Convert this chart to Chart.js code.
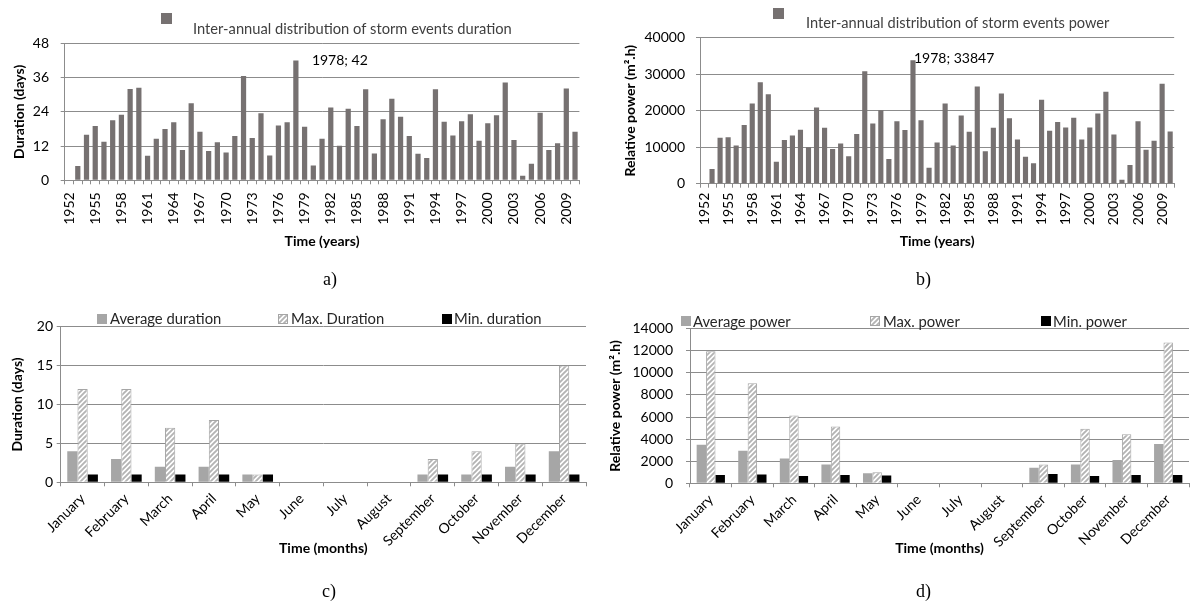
<!DOCTYPE html>
<html>
<head>
<meta charset="utf-8">
<script src="https://cdn.jsdelivr.net/npm/chart.js@4.4.0/dist/chart.umd.min.js"></script>
<style>
  html, body { margin: 0; padding: 0; background: #fff; }
  #wrap { position: relative; width: 1192px; height: 607px; overflow: hidden; background: #fff; }
  canvas { position: absolute; }
  .cap { position: absolute; font-family: 'Liberation Serif', 'Times New Roman', serif; font-size: 18px; color: #000; line-height: 1; }
</style>
</head>
<body>
<div id="wrap">
  <canvas id="chartA" width="600" height="262" style="left:0;top:0"></canvas>
  <canvas id="chartB" width="592" height="262" style="left:600px;top:0"></canvas>
  <canvas id="chartC" width="600" height="345" style="left:0;top:262px"></canvas>
  <canvas id="chartD" width="592" height="345" style="left:600px;top:262px"></canvas>
  <div class="cap" style="left:323px;top:270px">a)</div>
  <div class="cap" style="left:916px;top:270px">b)</div>
  <div class="cap" style="left:322px;top:582px">c)</div>
  <div class="cap" style="left:916px;top:582px">d)</div>
</div>
<script>
// ---- data ----
const years = ['1952','1953','1954','1955','1956','1957','1958','1959','1960','1961',
  '1962','1963','1964','1965','1966','1967','1968','1969','1970','1971',
  '1972','1973','1974','1975','1976','1977','1978','1979','1980','1981',
  '1982','1983','1984','1985','1986','1987','1988','1989','1990','1991',
  '1992','1993','1994','1995','1996','1997','1998','1999','2000','2001',
  '2002','2003','2004','2005','2006','2007','2008','2009','2010'];

// total storm duration per year (days)
const durationDays = [0, 5, 16, 19, 13.5, 21, 23, 32, 32.4, 8.6,
  14.6, 18, 20.3, 10.6, 27, 17, 10.3, 13.3, 9.7, 15.5,
  36.5, 14.8, 23.5, 8.7, 19.2, 20.3, 42, 18.8, 5.2, 14.6,
  25.5, 12.1, 25.1, 19, 31.9, 9.4, 21.4, 28.6, 22.3, 15.5,
  9.3, 7.8, 31.9, 20.5, 15.7, 20.7, 23.1, 13.9, 20, 22.8,
  34.3, 14.1, 1.6, 5.8, 23.7, 10.6, 13, 32.2, 17];

// total storm power per year (m2.h)
const powerYear = [0, 4000, 12600, 12700, 10500, 16100, 22000, 27800, 24500, 6000,
  12000, 13200, 14800, 10000, 20900, 15300, 9500, 11000, 7500, 13600,
  30800, 16500, 20100, 6800, 17100, 14700, 33847, 17400, 4400, 11300,
  22000, 10500, 18700, 14200, 26600, 8900, 15300, 24700, 17900, 12100,
  7400, 5600, 23000, 14500, 16900, 15400, 18100, 12100, 15400, 19200,
  25200, 13500, 1100, 5100, 17100, 9300, 11800, 27400, 14300];

const peakYear = '1978';

const months = ['January','February','March','April','May','June','July','August',
  'September','October','November','December'];

const avgDuration = [4, 3, 2, 2, 1, 0, 0, 0, 1, 1, 2, 4];
const maxDuration = [12, 12, 7, 8, 1, 0, 0, 0, 3, 4, 5, 15];
const minDuration = [1, 1, 1, 1, 1, 0, 0, 0, 1, 1, 1, 1];

const avgPower = [3500, 2950, 2250, 1700, 900, 0, 0, 0, 1400, 1700, 2100, 3550];
const maxPower = [11950, 9050, 6150, 5150, 1000, 0, 0, 0, 1700, 4950, 4450, 12750];
const minPower = [750, 800, 650, 750, 700, 0, 0, 0, 850, 650, 750, 750];

const yearTicksA = [0, 48, 12];       // min, max, step
const yearTicksB = [0, 40000, 10000];
const monthTicksC = [0, 20, 5];
const monthTicksD = [0, 14000, 2000];

// ---- styling ----
const FONT = "Lato, 'Open Sans', 'Liberation Sans', sans-serif";
Chart.defaults.font.family = FONT;
Chart.defaults.font.size = 14;
Chart.defaults.color = '#000';

const GRID = '#8c8c8c';
const DARK = '#767171';
const AVG = '#a6a6a6';
const MINC = '#000000';

function hatchPattern() {
  const c = document.createElement('canvas');
  c.width = 5; c.height = 5;
  const g = c.getContext('2d');
  g.fillStyle = '#ffffff';
  g.fillRect(0, 0, 5, 5);
  g.strokeStyle = '#b4b4b4';
  g.lineWidth = 1.9;
  g.beginPath();
  g.moveTo(-1, 6); g.lineTo(6, -1);
  g.moveTo(-3.5, 3.5); g.lineTo(3.5, -3.5);
  g.moveTo(1.5, 8.5); g.lineTo(8.5, 1.5);
  g.stroke();
  return g.createPattern(c, 'repeat');
}
const HATCH = hatchPattern();

// legend drawn at fixed spots: a square and the dataset label for each series
const legendBoxes = {
  id: 'legendBoxes',
  afterDraw(chart, args, opts) {
    const ctx = chart.ctx;
    ctx.save();
    opts.items.forEach((it, i) => {
      const ds = chart.data.datasets[i];
      ctx.fillStyle = ds.backgroundColor;
      ctx.fillRect(it.bx, it.by, it.size, it.size);
      if (ds.borderWidth) {
        ctx.strokeStyle = ds.borderColor;
        ctx.lineWidth = 1;
        ctx.strokeRect(it.bx + 0.5, it.by + 0.5, it.size - 1, it.size - 1);
      }
      ctx.fillStyle = opts.color || '#262626';
      ctx.font = (opts.size || 14) + 'px ' + FONT;
      ctx.textBaseline = 'middle';
      ctx.textAlign = 'left';
      ctx.fillText(ds.label, it.tx, it.ty);
    });
    ctx.restore();
  }
};

// "year; value" label next to one bar
const barNote = {
  id: 'barNote',
  afterDatasetsDraw(chart, args, opts) {
    const i = chart.data.labels.indexOf(opts.category);
    if (i < 0) return;
    const bar = chart.getDatasetMeta(0).data[i];
    const v = chart.data.datasets[0].data[i];
    const ctx = chart.ctx;
    ctx.save();
    ctx.fillStyle = '#000';
    ctx.font = '14px ' + FONT;
    ctx.textBaseline = 'middle';
    ctx.textAlign = 'left';
    ctx.fillText(chart.data.labels[i] + '; ' + v, bar.x + opts.dx, bar.y + opts.dy);
    ctx.restore();
  }
};

function xScale(opts) {
  return {
    grid: { display: true, offset: true, drawOnChartArea: false, drawTicks: true, tickLength: 4, color: GRID, lineWidth: 1 },
    border: { display: true, color: GRID, width: 1 },
    ticks: Object.assign({ autoSkip: false, color: '#000', font: { size: 14 } }, opts.ticks),
    title: { display: true, text: opts.title, color: '#000', font: { size: 14, weight: 'bold' }, padding: { top: 0, bottom: opts.titlePad } },
    afterFit: s => { s.height = opts.height; }
  };
}

function yScale(opts) {
  return {
    min: opts.range[0], max: opts.range[1],
    grid: { color: GRID, lineWidth: 1, tickLength: 4, drawTicks: true },
    border: { display: true, color: GRID, width: 1 },
    ticks: { stepSize: opts.range[2], padding: opts.tickPad, color: '#000', font: { size: opts.fontSize || 14 },
      callback: v => String(v) },
    title: { display: true, text: opts.title, color: '#000', font: { size: 14, weight: 'bold' }, padding: { top: opts.titlePad, bottom: 0 } },
    afterFit: s => { s.width = opts.width; }
  };
}

const base = { responsive: false, animation: false, devicePixelRatio: 1 };

// a) yearly duration
new Chart(document.getElementById('chartA'), {
  type: 'bar',
  data: {
    labels: years,
    datasets: [{ label: 'Inter-annual distribution of storm events duration', data: durationDays,
      backgroundColor: DARK, barPercentage: 0.6, categoryPercentage: 1 }]
  },
  options: Object.assign({}, base, {
    layout: { padding: { left: 0, top: 43.3, right: 20, bottom: 0 } },
    plugins: {
      legend: { display: false }, tooltip: { enabled: false },
      legendBoxes: { items: [{ bx: 161, by: 13, size: 11, tx: 193, ty: 29 }], color: '#404040', size: 14.7 },
      barNote: { category: peakYear, dx: 16, dy: 0 }
    },
    scales: {
      x: xScale({ title: 'Time (years)', titlePad: 12.6, height: 81.7,
        ticks: { minRotation: 90, maxRotation: 90, padding: 8, callback: (v, i) => i % 3 === 0 ? years[i] : '' } }),
      y: yScale({ title: 'Duration (days)', range: yearTicksA, tickPad: 11.7, titlePad: 10.6, width: 64.7 })
    }
  }),
  plugins: [legendBoxes, barNote]
});

// b) yearly power
new Chart(document.getElementById('chartB'), {
  type: 'bar',
  data: {
    labels: years,
    datasets: [{ label: 'Inter-annual distribution of storm events power', data: powerYear,
      backgroundColor: DARK, barPercentage: 0.64, categoryPercentage: 1 }]
  },
  options: Object.assign({}, base, {
    layout: { padding: { left: 0, top: 37.7, right: 4, bottom: 0 } },
    plugins: {
      legend: { display: false }, tooltip: { enabled: false },
      legendBoxes: { items: [{ bx: 173, by: 8, size: 11, tx: 206, ty: 23 }], color: '#404040', size: 14.6 },
      barNote: { category: peakYear, dx: 1, dy: -2 }
    },
    scales: {
      x: xScale({ title: 'Time (years)', titlePad: 12.6, height: 78.3,
        ticks: { minRotation: 90, maxRotation: 90, padding: 5, callback: (v, i) => i % 3 === 0 ? years[i] : '' } }),
      y: yScale({ title: 'Relative power (m².h)', range: yearTicksB, tickPad: 11, titlePad: 21.6, width: 100 })
    }
  }),
  plugins: [legendBoxes, barNote]
});

// c) monthly duration
new Chart(document.getElementById('chartC'), {
  type: 'bar',
  data: {
    labels: months,
    datasets: [
      { label: 'Average duration', data: avgDuration, backgroundColor: AVG, barPercentage: 1, categoryPercentage: 0.7 },
      { label: 'Max. Duration', data: maxDuration, backgroundColor: HATCH, borderColor: AVG, borderWidth: 1, barPercentage: 1, categoryPercentage: 0.7 },
      { label: 'Min. duration', data: minDuration, backgroundColor: MINC, barPercentage: 1, categoryPercentage: 0.7 }
    ]
  },
  options: Object.assign({}, base, {
    layout: { padding: { left: 0, top: 64.7, right: 14, bottom: 0 } },
    plugins: {
      legend: { display: false }, tooltip: { enabled: false },
      legendBoxes: { items: [
        { bx: 97, by: 52, size: 10, tx: 110, ty: 57 },
        { bx: 278, by: 52, size: 10, tx: 291, ty: 57 },
        { bx: 442, by: 52, size: 10, tx: 454, ty: 57 }
      ], color: '#262626', size: 14.8 }
    },
    scales: {
      x: xScale({ title: 'Time (months)', titlePad: 50, height: 124.7,
        ticks: { minRotation: 45, maxRotation: 45, padding: 4 } }),
      y: yScale({ title: 'Duration (days)', range: monthTicksC, tickPad: 3.7, titlePad: 8.6, width: 60.7 })
    }
  }),
  plugins: [legendBoxes]
});

// d) monthly power
new Chart(document.getElementById('chartD'), {
  type: 'bar',
  data: {
    labels: months,
    datasets: [
      { label: 'Average power', data: avgPower, backgroundColor: AVG, barPercentage: 1, categoryPercentage: 0.68 },
      { label: 'Max. power', data: maxPower, backgroundColor: HATCH, borderColor: AVG, borderWidth: 1, barPercentage: 1, categoryPercentage: 0.68 },
      { label: 'Min. power', data: minPower, backgroundColor: MINC, barPercentage: 1, categoryPercentage: 0.68 }
    ]
  },
  options: Object.assign({}, base, {
    layout: { padding: { left: 0, top: 66.7, right: 3, bottom: 0 } },
    plugins: {
      legend: { display: false }, tooltip: { enabled: false },
      legendBoxes: { items: [
        { bx: 81, by: 54, size: 10, tx: 93, ty: 60 },
        { bx: 270, by: 54, size: 10, tx: 283, ty: 60 },
        { bx: 441, by: 54, size: 10, tx: 453, ty: 60 }
      ], color: '#262626', size: 14.8 }
    },
    scales: {
      x: xScale({ title: 'Time (months)', titlePad: 50, height: 123.7,
        ticks: { minRotation: 45, maxRotation: 45, padding: 4 } }),
      y: yScale({ title: 'Relative power (m².h)', range: monthTicksD, tickPad: 13, titlePad: 6.6, width: 90 })
    }
  }),
  plugins: [legendBoxes]
});
</script>
</body>
</html>
